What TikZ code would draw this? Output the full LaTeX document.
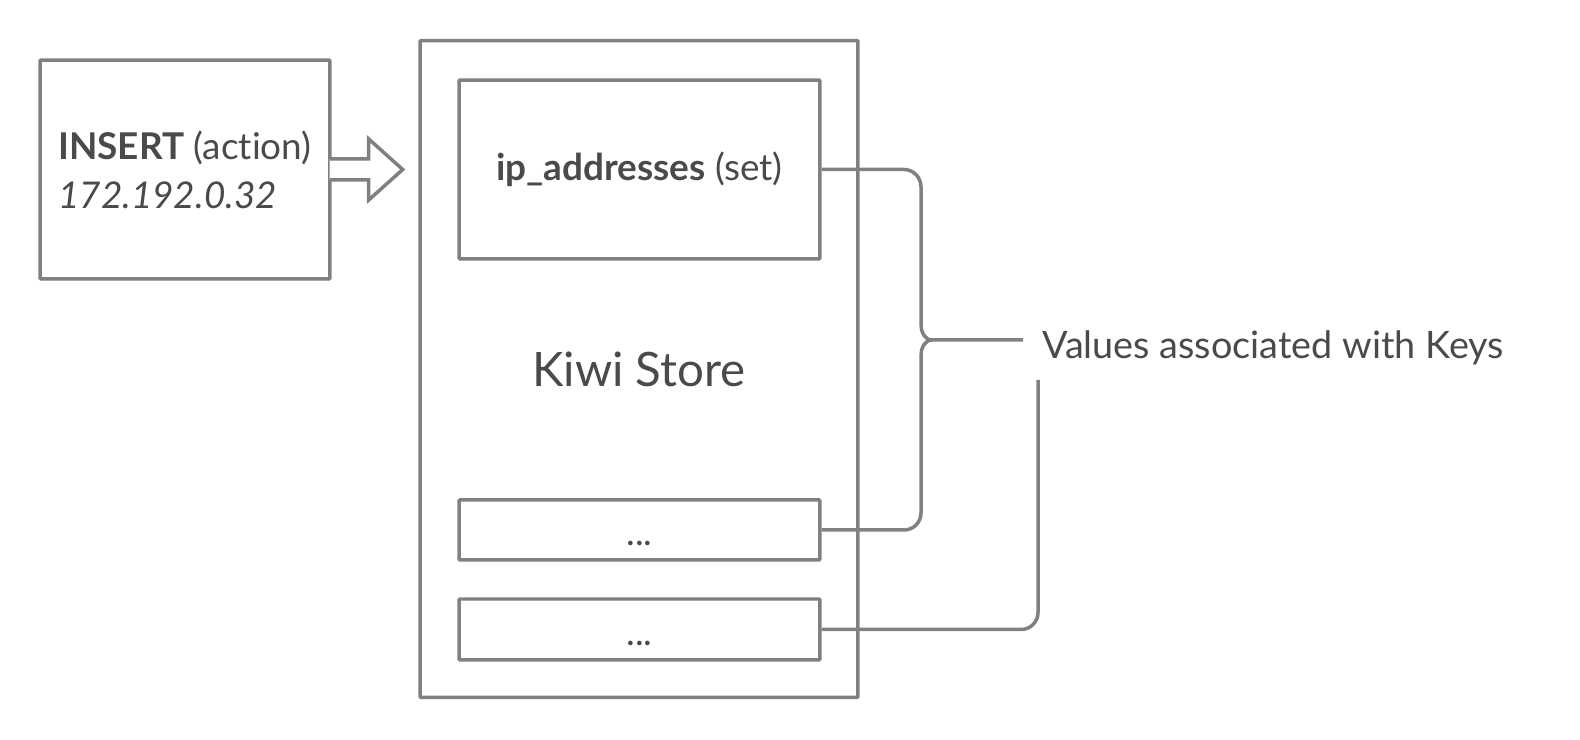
\documentclass[tikz,border=0pt]{standalone}
\usepackage{fontspec}
\setmainfont{Lato}[Ligatures=NoCommon]
\usepackage{tikz}
\usetikzlibrary{calc}
\definecolor{linegray}{HTML}{808080}
\definecolor{inkgray}{HTML}{4A4A4A}

\begin{document}
\begin{tikzpicture}[x=0.02cm,y=0.02cm,
  box/.style={draw=linegray, line width=0.07cm, rounded corners=0.6pt, text=inkgray, inner sep=0},
  link/.style={draw=linegray, line width=0.07cm},
  txt/.style={text=inkgray, font=\fontsize{21}{28}\selectfont}]
\useasboundingbox (0,0) rectangle (1580,740);
\node[box, txt, minimum width=5.8cm, minimum height=4.38cm, align=left] (insert) at (185,570.5) {\textbf{INSERT} (action)\\\textit{172.192.0.32}};
\filldraw[link, fill=white] ($(insert.east)+(-2,10.5)$) -- ++(39,0) -- ++(0,20) -- ($(insert.east)+(71,0)$) -- ($(insert.east)+(37,-30.5)$) -- ++(0,20) -- ($(insert.east)+(-2,-10.5)$);
\node[box, minimum width=8.76cm, minimum height=13.14cm, font=\fontsize{27}{34}\selectfont] (store) at (639,371) {Kiwi Store};
\node[box, txt, minimum width=7.22cm, minimum height=3.58cm] (ipset) at (639.5,570.5) {\textbf{ip\_addresses} (set)};
\node[box, txt, minimum width=7.22cm, minimum height=1.2cm, text height=18pt, text depth=0pt] (dots1) at (639.5,210) {...};
\node[box, txt, minimum width=7.22cm, minimum height=1.22cm, text height=18pt, text depth=0pt] (dots2) at (639.5,110.5) {...};
\node[txt, font=\fontsize{21.5}{28}\selectfont, anchor=base west, inner xsep=10.8pt] (vals) at (1023,381) {Values associated with Keys};
\coordinate (tip) at (932,400);
\coordinate (valsfoot) at (1038,360);
\draw[link] (ipset.east) -- (904,570.5) to[out=0,in=90] (921,553) -- (921,415) to[out=-90,in=180] (tip) -- (tip -| vals.west);
\draw[link] (tip) to[out=180,in=90] (921,385) -- (921,227) to[out=-90,in=0] (904,210) -- (dots1.east);
\draw[link] (dots2.east) -- (1021,110.5) to[out=0,in=-90] (1038,127.5) -- (valsfoot);
\end{tikzpicture}
\end{document}
